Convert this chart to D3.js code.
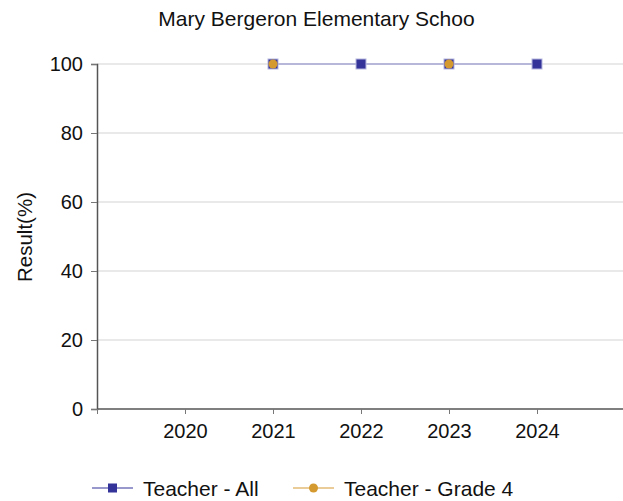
<!DOCTYPE html>
<html><head><meta charset="utf-8">
<script src="https://cdn.jsdelivr.net/npm/d3@7"></script>
<style>body{margin:0;background:#fff}svg{display:block;font-family:"Liberation Sans",Arial,sans-serif}</style>
</head><body><svg id="c" width="623" height="501"></svg>
<script>
const title = "Mary Bergeron Elementary Schoo";
const years = [2020, 2021, 2022, 2023, 2024];
const yTicks = [0, 20, 40, 60, 80, 100];
const teacherAll = [null, 100, 100, 100, 100];
const teacherGrade4 = [null, 100, null, 100, null];
const seriesNames = ["Teacher - All", "Teacher - Grade 4"];
const colors = ["#333399", "#d49a30"];

const svg = d3.select("#c");
const x = d3.scaleLinear().domain([2019, 2025]).range([97, 625]);
const y = d3.scaleLinear().domain([0, 100]).range([409, 64]);

svg.append("text").attr("x", 316.5).attr("y", 26).attr("text-anchor", "middle")
  .attr("font-size", 21).attr("fill", "#111").text(title);

// gridlines
svg.append("g").selectAll("line").data(yTicks.filter(d => d > 0)).join("line")
  .attr("x1", 97).attr("x2", 623).attr("y1", d => y(d)).attr("y2", d => y(d))
  .attr("stroke", "#e2e2e2").attr("stroke-width", 1.5);

const yAxis = svg.append("g").attr("transform", "translate(97,0)")
  .call(d3.axisLeft(y).tickValues(yTicks).tickSize(6).tickPadding(8));
const xAxis = svg.append("g").attr("transform", "translate(0,409)")
  .call(d3.axisBottom(x).tickValues([2019, ...years]).tickFormat(d => d === 2019 ? "" : d).tickSize(5).tickPadding(10));
[yAxis, xAxis].forEach(a => {
  a.selectAll("path.domain").attr("stroke", "#555").attr("stroke-width", 1.5);
  a.selectAll(".tick line").attr("stroke", "#777");
  a.selectAll("text").attr("font-size", 20).attr("fill", "#111").attr("font-family", '"Liberation Sans",Arial,sans-serif');
});
xAxis.select("path.domain").attr("d", "M97,0H623");

svg.append("text").attr("transform", "translate(32,237) rotate(-90)").attr("text-anchor", "middle")
  .attr("font-size", 20.5).attr("fill", "#111").text("Result(%)");

const line = d3.line().defined(d => d.v !== null).x(d => x(d.year)).y(d => y(d.v));
const allData = years.map((yr, i) => ({year: yr, v: teacherAll[i]}));
const g4Data = years.map((yr, i) => ({year: yr, v: teacherGrade4[i]}));

svg.append("path").datum(allData).attr("d", line).attr("fill", "none")
  .attr("stroke", "#a6a6d4").attr("stroke-width", 1.5);
svg.append("path").datum(g4Data).attr("d", line).attr("fill", "none")
  .attr("stroke", colors[1]).attr("stroke-width", 1.5).attr("stroke-opacity", 0.6);

svg.append("g").selectAll("rect").data(allData.filter(d => d.v !== null)).join("rect")
  .attr("x", d => x(d.year) - 5).attr("y", d => y(d.v) - 5).attr("width", 10).attr("height", 10)
  .attr("fill", colors[0]).attr("stroke", "#b8b8e0").attr("stroke-width", 1);
svg.append("g").selectAll("circle").data(g4Data.filter(d => d.v !== null)).join("circle")
  .attr("cx", d => x(d.year)).attr("cy", d => y(d.v)).attr("r", 4.5)
  .attr("fill", colors[1]);

// legend
const lg = svg.append("g");
const lx = [92, 293];
seriesNames.forEach((n, i) => {
  const g = lg.append("g").attr("transform", `translate(${lx[i]},488)`);
  g.append("line").attr("x1", 0).attr("x2", 41).attr("stroke", colors[i]).attr("stroke-width", 1.2);
  if (i === 0) g.append("rect").attr("x", 16).attr("y", -4.5).attr("width", 9).attr("height", 9).attr("fill", colors[0]);
  else g.append("circle").attr("cx", 20.5).attr("r", 4.5).attr("fill", colors[1]);
  g.append("text").attr("x", 51).attr("y", 7.5).attr("font-size", 21).attr("fill", "#111").text(n);
});
</script></body></html>
